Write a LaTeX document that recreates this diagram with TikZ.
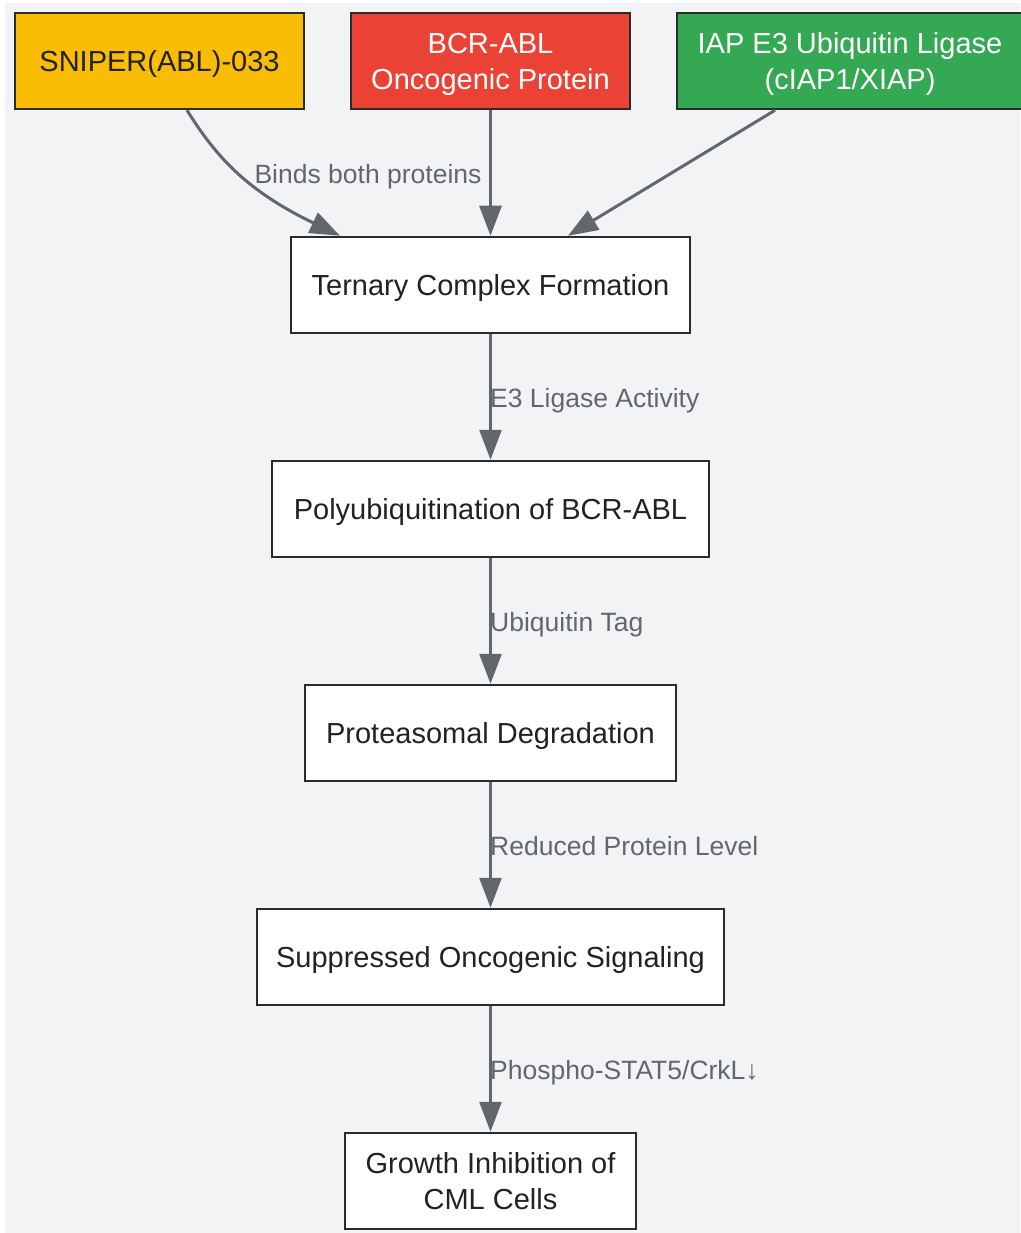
\documentclass[tikz,border=0pt]{standalone}
\usepackage{fontspec}
\setmainfont{Liberation Sans}
\usetikzlibrary{arrows.meta}

\definecolor{bggray}{HTML}{F2F3F5}
\definecolor{edgegray}{HTML}{63666A}
\definecolor{boxline}{HTML}{2B2B2B}
\definecolor{textdark}{HTML}{222222}
\definecolor{sniperfill}{HTML}{FBBC05}
\definecolor{bcrfill}{HTML}{EA4335}
\definecolor{iapfill}{HTML}{34A853}

\tikzset{
  stepbox/.style={draw=boxline, line width=2.5pt, fill=white, text=textdark,
    minimum height=96pt, inner sep=0pt, align=center, text depth=0pt,
    font=\fontsize{29}{36}\selectfont},
  flow/.style={draw=edgegray, line width=3pt, -{Triangle[length=30pt,width=22pt]}},
  flowlabel/.style={text=edgegray, inner sep=0pt, text depth=0pt,
    font=\fontsize{26.5}{32}\selectfont}
}

\begin{document}
\begin{tikzpicture}[x=1pt, y=-1pt]
            \useasboundingbox (0,0) rectangle (1020,1233);
            \fill[bggray] (5,3) rectangle (1020,1233);

            % top row
            \node[stepbox, fill=sniperfill, minimum width=289pt] (sniper) at (159.5,61) {SNIPER(ABL)-033};
            \node[stepbox, fill=bcrfill, text=white, minimum width=279pt] (bcr) at (490.5,61) {BCR-ABL\\Oncogenic Protein};
            \node[stepbox, fill=iapfill, text=white, minimum width=346pt] (iap) at (850,61) {IAP E3 Ubiquitin Ligase\\(cIAP1/XIAP)};

            % main chain
            \node[stepbox, minimum width=399pt] (ternary) at (490.5,285) {Ternary Complex Formation};
            \node[stepbox, minimum width=437pt] (poly) at (490.5,509) {Polyubiquitination of BCR-ABL};
            \node[stepbox, minimum width=371pt] (prot) at (490.5,733) {Proteasomal Degradation};
            \node[stepbox, minimum width=467pt] (supp) at (490.5,957) {Suppressed Oncogenic Signaling};
            \node[stepbox, minimum width=291pt] (growth) at (490.5,1181) {Growth Inhibition of\\CML Cells};

            % connectors
            \draw[flow] ([xshift=27.5pt]sniper.south) .. controls (215,155) and (245,190) .. ([xshift=-150.5pt]ternary.north);
            \draw[flow] (bcr.south) -- (ternary.north);
            \draw[flow] ([xshift=-75pt]iap.south) -- ([xshift=77.5pt]ternary.north);
            \draw[flow] (ternary.south) -- (poly.north);
            \draw[flow] (poly.south) -- (prot.north);
            \draw[flow] (prot.south) -- (supp.north);
            \draw[flow] (supp.south) -- (growth.north);

            % labels
            \node[flowlabel] (lbind) at (368,174) {Binds both proteins};
            \node[flowlabel, anchor=west] (le3) at (490,398) {E3 Ligase Activity};
            \node[flowlabel, anchor=west] (ltag) at (490,622) {Ubiquitin Tag};
            \node[flowlabel, anchor=west] (lred) at (490,846) {Reduced Protein Level};
            \node[flowlabel, anchor=west] (lphos) at (490,1070) {Phospho-STAT5/CrkL↓};
        \end{tikzpicture}
\end{document}
